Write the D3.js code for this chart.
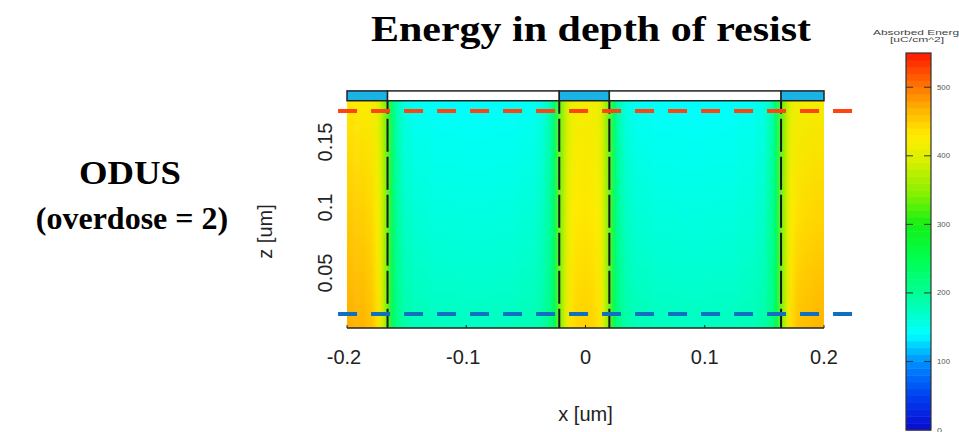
<!DOCTYPE html>
<html>
<head>
<meta charset="utf-8">
<script src="https://cdn.jsdelivr.net/npm/d3@7"></script>
<style>
  html, body { margin: 0; padding: 0; background: #fff; }
  svg { display: block; }
</style>
</head>
<body>
<svg id="chart" width="959" height="432"></svg>
<script>
// ---- data -------------------------------------------------------------
// Absorbed energy (uC/cm^2) sampled in columns across x (um); each column
// holds values near the top, middle and bottom of the resist.
const colX = [
  -0.196, -0.188, -0.180, -0.174, -0.171, -0.1685,
  -0.1635, -0.161, -0.157, -0.150, -0.140, -0.120, -0.094, -0.068, -0.048, -0.038, -0.031, -0.027, -0.0245,
  -0.0195, -0.0165, -0.012, -0.006, 0.0, 0.005, 0.011, 0.0155, 0.0175,
  0.0225, 0.025, 0.029, 0.036, 0.046, 0.066, 0.092, 0.118, 0.138, 0.148, 0.155, 0.159, 0.1615,
  0.1665, 0.169, 0.172, 0.178, 0.186, 0.195
];
const energyTop = [
  432, 428, 422, 405, 380, 340,
  270, 212, 175, 152, 145, 142, 141, 142, 145, 152, 175, 212, 270,
  345, 385, 410, 418, 420, 418, 410, 385, 345,
  270, 212, 175, 152, 145, 142, 141, 142, 145, 152, 175, 212, 270,
  340, 380, 405, 415, 418, 420
];
const energyMid = [
  452, 450, 444, 425, 395, 350,
  280, 222, 190, 170, 162, 158, 157, 158, 162, 170, 190, 222, 280,
  350, 395, 425, 432, 434, 432, 425, 395, 350,
  280, 222, 190, 170, 162, 158, 157, 158, 162, 170, 190, 222, 280,
  350, 395, 425, 438, 442, 445
];
const energyBottom = [
  470, 468, 460, 440, 405, 355,
  285, 230, 202, 186, 180, 176, 175, 176, 180, 186, 202, 230, 285,
  355, 405, 438, 446, 448, 446, 438, 405, 355,
  285, 230, 202, 186, 180, 176, 175, 176, 180, 186, 202, 230, 285,
  355, 405, 440, 458, 462, 466
];

// Line edges (um) of the pattern, and the mask segments above the resist
const lineEdges = [-0.166, -0.022, 0.020, 0.164];
const maskSegments = [
  { x0: -0.2,   x1: -0.166, open: false },
  { x0: -0.166, x1: -0.022, open: true },
  { x0: -0.022, x1: 0.020,  open: false },
  { x0: 0.020,  x1: 0.164,  open: true },
  { x0: 0.164,  x1: 0.2,    open: false }
];

const xExtent = [-0.2, 0.2];
const resistZ = [0.008, 0.1815];
const maskZ = [0.1815, 0.189];
const refLines = [
  { z: 0.1737, x0: -0.2075, x1: 0.231, color: "#ff4412" },
  { z: 0.0187, x0: -0.2075, x1: 0.225, color: "#1070c0" }
];

const xTicks = [-0.2, -0.1, 0, 0.1, 0.2];
const zTicks = [0.05, 0.1, 0.15];
const cbTicks = [0, 100, 200, 300, 400, 500];
const cbMax = 550;

// colour map of the absorbed energy
const cmapStops = [0, 50, 100, 140, 200, 250, 300, 350, 400, 430, 470, 500, 550];
const cmapColors = ["#0a0ad0", "#0040f0", "#0090ff", "#00ffff", "#00ff94", "#00ff50",
                    "#14f014", "#90f000", "#e2f000", "#ffec00", "#ffb000", "#ff7800", "#ff1800"];

// ---- scales -----------------------------------------------------------
const svg = d3.select("#chart");
const x = d3.scaleLinear().domain(xExtent).range([347, 824]);
const z = d3.scaleLinear().domain([0, 0.2]).range([338.5, 76.5]);
const color = d3.scaleLinear().domain(cmapStops).range(cmapColors).clamp(true);

const defs = svg.append("defs");

// ---- resist energy map ------------------------------------------------
const edges = [xExtent[0]];
for (let i = 1; i < colX.length; i++) edges.push((colX[i - 1] + colX[i]) / 2);
edges.push(xExtent[1]);

const yTop = z(resistZ[1]), yBot = z(resistZ[0]);

colX.forEach((c, i) => {
  const g = defs.append("linearGradient")
    .attr("id", "col" + i)
    .attr("gradientUnits", "userSpaceOnUse")
    .attr("x1", 0).attr("x2", 0).attr("y1", yTop).attr("y2", yBot);
  g.append("stop").attr("offset", "0%").attr("stop-color", color(energyTop[i]));
  g.append("stop").attr("offset", "50%").attr("stop-color", color(energyMid[i]));
  g.append("stop").attr("offset", "100%").attr("stop-color", color(energyBottom[i]));
});

defs.append("clipPath").attr("id", "resistClip")
  .append("rect")
  .attr("x", x(xExtent[0])).attr("y", yTop)
  .attr("width", x(xExtent[1]) - x(xExtent[0])).attr("height", yBot - yTop);

defs.append("filter").attr("id", "soft")
  .attr("x", "-5%").attr("y", "-5%").attr("width", "110%").attr("height", "110%")
  .append("feGaussianBlur").attr("stdDeviation", "2 0.5");

const map = svg.append("g").attr("clip-path", "url(#resistClip)")
  .append("g").attr("filter", "url(#soft)");

map.selectAll("rect.cell")
  .data(colX)
  .join("rect")
  .attr("class", "cell")
  .attr("x", (d, i) => x(edges[i]) - (i === 0 ? 4 : 0))
  .attr("width", (d, i) => x(edges[i + 1]) - x(edges[i]) + (i === 0 || i === colX.length - 1 ? 4 : 0.6))
  .attr("y", yTop - 2)
  .attr("height", yBot - yTop + 4)
  .attr("fill", (d, i) => `url(#col${i})`);

// dashed black line edges
svg.append("g").selectAll("line")
  .data(lineEdges)
  .join("line")
  .attr("x1", d => x(d)).attr("x2", d => x(d))
  .attr("y1", yTop).attr("y2", yBot)
  .attr("stroke", "#1a1a1a")
  .attr("stroke-width", 2)
  .attr("stroke-dasharray", "33,5")
  .attr("stroke-dashoffset", 20);

// mask above the resist
svg.append("g").selectAll("rect")
  .data(maskSegments)
  .join("rect")
  .attr("x", d => x(d.x0))
  .attr("width", d => x(d.x1) - x(d.x0))
  .attr("y", z(maskZ[1]))
  .attr("height", z(maskZ[0]) - z(maskZ[1]))
  .attr("fill", d => d.open ? "#ffffff" : "#1bb3e6")
  .attr("stroke", "#222")
  .attr("stroke-width", 1.5);

// bottom axis line with small ticks
const axisG = svg.append("g");
axisG.append("line")
  .attr("x1", x(xExtent[0])).attr("x2", x(xExtent[1]))
  .attr("y1", yBot).attr("y2", yBot)
  .attr("stroke", "#222").attr("stroke-width", 1.5);
axisG.selectAll("line.tk")
  .data(xTicks)
  .join("line")
  .attr("class", "tk")
  .attr("x1", d => x(d)).attr("x2", d => x(d))
  .attr("y1", yBot).attr("y2", yBot - 3)
  .attr("stroke", "#222").attr("stroke-width", 1);

// tick labels
const tickFont = "'Liberation Sans', Arial, sans-serif";
svg.append("g").selectAll("text")
  .data(xTicks)
  .join("text")
  .attr("x", d => x(d) + (d < 0 ? -3 : 0))
  .attr("y", 364)
  .attr("text-anchor", "middle")
  .attr("font-family", tickFont)
  .attr("font-size", 20)
  .attr("fill", "#222")
  .text(d => String(d));

svg.append("g").selectAll("text")
  .data(zTicks)
  .join("text")
  .attr("transform", d => `translate(332,${z(d)}) rotate(-90)`)
  .attr("text-anchor", "middle")
  .attr("font-family", tickFont)
  .attr("font-size", 20)
  .attr("fill", "#222")
  .text(d => String(d));

svg.append("text")
  .attr("x", x(0)).attr("y", 421)
  .attr("text-anchor", "middle")
  .attr("font-family", tickFont).attr("font-size", 20).attr("fill", "#222")
  .text("x [um]");

svg.append("text")
  .attr("transform", `translate(272,${z(0.1) + 24}) rotate(-90)`)
  .attr("text-anchor", "middle")
  .attr("font-family", tickFont).attr("font-size", 20).attr("fill", "#222")
  .text("z [um]");

// reference depth lines
svg.append("g").selectAll("line")
  .data(refLines)
  .join("line")
  .attr("x1", d => x(d.x0)).attr("x2", d => x(d.x1))
  .attr("y1", d => z(d.z)).attr("y2", d => z(d.z))
  .attr("stroke", d => d.color)
  .attr("stroke-width", 4)
  .attr("stroke-dasharray", "19,14");

// ---- titles -----------------------------------------------------------
const serif = "'Liberation Serif', 'Times New Roman', serif";
svg.append("text")
  .attr("x", 591).attr("y", 41)
  .attr("text-anchor", "middle")
  .attr("font-family", serif).attr("font-weight", "bold").attr("font-size", 36)
  .attr("textLength", 440).attr("lengthAdjust", "spacingAndGlyphs")
  .attr("fill", "#000")
  .text("Energy in depth of resist");

svg.append("text")
  .attr("x", 130).attr("y", 184)
  .attr("text-anchor", "middle")
  .attr("font-family", serif).attr("font-weight", "bold").attr("font-size", 33)
  .attr("textLength", 102).attr("lengthAdjust", "spacingAndGlyphs")
  .text("ODUS");
svg.append("text")
  .attr("x", 132).attr("y", 229)
  .attr("text-anchor", "middle")
  .attr("font-family", serif).attr("font-weight", "bold").attr("font-size", 32)
  .text("(overdose = 2)");

// ---- colour bar ---------------------------------------------------------
const cb = d3.scaleLinear().domain([0, cbMax]).range([430, 53]);
const cbX = 906, cbW = 25;
const steps = d3.range(0, cbMax, 10);
const cbG = svg.append("g");
cbG.selectAll("rect")
  .data(steps)
  .join("rect")
  .attr("x", cbX).attr("width", cbW)
  .attr("y", d => cb(d + 10))
  .attr("height", d => cb(d) - cb(d + 10) + 0.5)
  .attr("fill", d => color(d + 5));
cbG.append("rect")
  .attr("x", cbX).attr("y", cb(cbMax)).attr("width", cbW).attr("height", cb(0) - cb(cbMax))
  .attr("fill", "none").attr("stroke", "#333").attr("stroke-width", 1.2);
cbG.selectAll("path.tk")
  .data(cbTicks.filter(d => d > 0))
  .join("path")
  .attr("class", "tk")
  .attr("d", d => `M${cbX},${cb(d)}h7M${cbX + cbW - 7},${cb(d)}h7`)
  .attr("stroke", "#333").attr("stroke-width", 1);
cbG.selectAll("text")
  .data(cbTicks)
  .join("text")
  .attr("x", cbX + cbW + 6)
  .attr("y", d => cb(d) + 2.5)
  .attr("font-family", tickFont).attr("font-size", 7).attr("fill", "#555")
  .attr("textLength", d => d === 0 ? 5 : 13).attr("lengthAdjust", "spacingAndGlyphs")
  .text(d => d);
cbG.append("text")
  .attr("x", 873).attr("y", 35)
  .attr("font-family", tickFont).attr("font-size", 7).attr("fill", "#444")
  .attr("textLength", 92).attr("lengthAdjust", "spacingAndGlyphs")
  .text("Absorbed Energy");
cbG.append("text")
  .attr("x", 890).attr("y", 42)
  .attr("font-family", tickFont).attr("font-size", 7).attr("fill", "#444")
  .attr("textLength", 54).attr("lengthAdjust", "spacingAndGlyphs")
  .text("[uC/cm^2]");
</script>
</body>
</html>
